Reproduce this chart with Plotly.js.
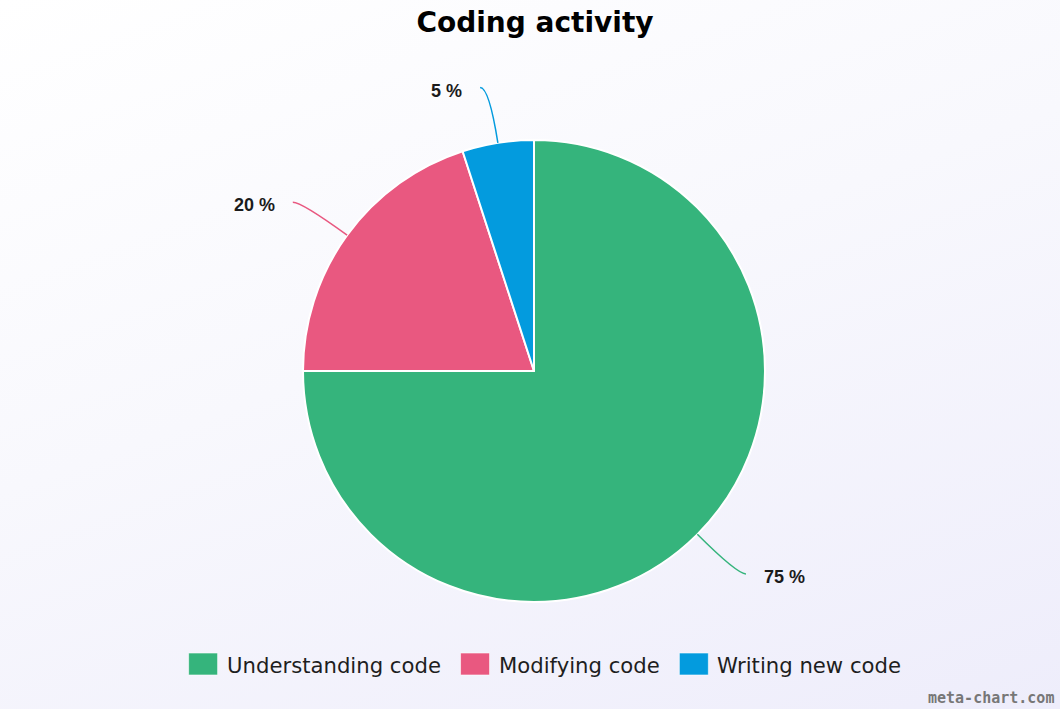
<!DOCTYPE html>
<html>
<head>
<meta charset="utf-8">
<script src="https://cdn.plot.ly/plotly-3.0.1.min.js"></script>
<style>
  html, body { margin: 0; padding: 0; }
  body {
    width: 1060px;
    height: 709px;
    background: linear-gradient(160deg, #ffffff 0%, #f8f8fd 45%, #eeedfb 100%);
  }
  #chart { width: 1060px; height: 709px; }
</style>
</head>
<body>
<div id="chart"></div>
<script>
// data
const categories = ["Understanding code", "Modifying code", "Writing new code"];
const shares = [75, 20, 5];
const sliceColors = ["#35b47c", "#e95880", "#039bde"];

const W = 1060;
const H = 709;
const PIE = { cx: 534, cy: 371, r: 231 };
const LEADER = { out: 56, hook: 9, gap: 16, drop: 3 };
// textGap is a bit under the visible gap, annotations add ~3px of padding
const LEGEND = { cx: 544, cy: 664, sw: 29, sh: 22, textGap: 7, itemGap: 22, size: 21.2 };

const FONT_SANS = "'DejaVu Sans', Verdana, sans-serif";
const FONT_LABEL = "'Liberation Sans', Arial, sans-serif";

// pixel -> paper
const px = (x) => x / W;
const py = (y) => 1 - y / H;

function textWidth(text, font) {
  const ctx = document.createElement("canvas").getContext("2d");
  ctx.font = font;
  return ctx.measureText(text).width;
}

const total = shares.reduce((a, b) => a + b, 0);
const shapes = [];
const annotations = [];

// leader lines + percentage labels, placed from each slice's mid angle
let cum = 0;
shares.forEach((v, i) => {
  const theta = 2 * Math.PI * (cum + v / 2) / total;
  cum += v;
  const ux = Math.sin(theta);
  const uy = -Math.cos(theta);
  const ex = PIE.cx + PIE.r * ux;
  const ey = PIE.cy + PIE.r * uy;
  const cx = PIE.cx + (PIE.r + LEADER.out) * ux;
  const cy = PIE.cy + (PIE.r + LEADER.out) * uy;
  const side = ux < 0 ? -1 : 1;
  const qx = cx + side * LEADER.hook;
  const qy = cy;

  shapes.push({
    type: "path",
    xref: "paper",
    yref: "paper",
    path: `M ${px(ex)},${py(ey)} Q ${px(cx)},${py(cy)} ${px(qx)},${py(qy)}`,
    line: { color: sliceColors[i], width: 1.5 },
  });

  annotations.push({
    xref: "paper",
    yref: "paper",
    x: px(qx + side * LEADER.gap),
    y: py(qy + LEADER.drop),
    xanchor: side < 0 ? "right" : "left",
    yanchor: "middle",
    showarrow: false,
    text: `<b>${v} %</b>`,
    font: { family: FONT_LABEL, size: 18, color: "#1b1b1b" },
  });
});

// hand-laid legend so the swatches can be as big as the original
const legendFont = `${LEGEND.size}px 'DejaVu Sans'`;
const widths = categories.map((c) => textWidth(c, legendFont));
const legendTotal = widths.reduce((s, w) => s + LEGEND.sw + LEGEND.textGap + w, 0)
  + LEGEND.itemGap * (categories.length - 1);
let lx = LEGEND.cx - legendTotal / 2;
categories.forEach((c, i) => {
  shapes.push({
    type: "rect",
    xref: "paper",
    yref: "paper",
    x0: px(lx),
    x1: px(lx + LEGEND.sw),
    y0: py(LEGEND.cy - LEGEND.sh / 2),
    y1: py(LEGEND.cy + LEGEND.sh / 2),
    fillcolor: sliceColors[i],
    line: { color: "rgba(255,255,255,0.6)", width: 1 },
  });
  annotations.push({
    xref: "paper",
    yref: "paper",
    x: px(lx + LEGEND.sw + LEGEND.textGap),
    y: py(LEGEND.cy + 1),
    xanchor: "left",
    yanchor: "middle",
    showarrow: false,
    text: c,
    font: { family: FONT_SANS, size: LEGEND.size, color: "#1e1e1e" },
  });
  lx += LEGEND.sw + LEGEND.textGap + widths[i] + LEGEND.itemGap;
});

annotations.push({
  xref: "paper",
  yref: "paper",
  x: px(1056),
  y: py(698),
  xanchor: "right",
  yanchor: "middle",
  showarrow: false,
  text: "<b>meta-chart.com</b>",
  font: { family: "'DejaVu Sans Mono', monospace", size: 15, color: "#777777" },
});

const traces = [{
  type: "pie",
  labels: categories,
  values: shares,
  sort: false,
  direction: "clockwise",
  rotation: 0,
  textinfo: "none",
  hoverinfo: "skip",
  marker: { colors: sliceColors, line: { color: "#ffffff", width: 2 } },
  domain: {
    x: [px(PIE.cx - PIE.r), px(PIE.cx + PIE.r)],
    y: [py(PIE.cy + PIE.r), py(PIE.cy - PIE.r)],
  },
  showlegend: false,
}];

const layout = {
  width: W,
  height: H,
  margin: { l: 0, r: 0, t: 0, b: 0 },
  paper_bgcolor: "rgba(0,0,0,0)",
  plot_bgcolor: "rgba(0,0,0,0)",
  showlegend: false,
  title: {
    text: "<b>Coding activity</b>",
    font: { family: FONT_SANS, size: 28, color: "#000000" },
    x: px(535),
    xref: "paper",
    xanchor: "center",
    y: py(22),
    yref: "paper",
    yanchor: "middle",
  },
  shapes,
  annotations,
};

Plotly.newPlot("chart", traces, layout, { displayModeBar: false, staticPlot: true });
</script>
</body>
</html>
